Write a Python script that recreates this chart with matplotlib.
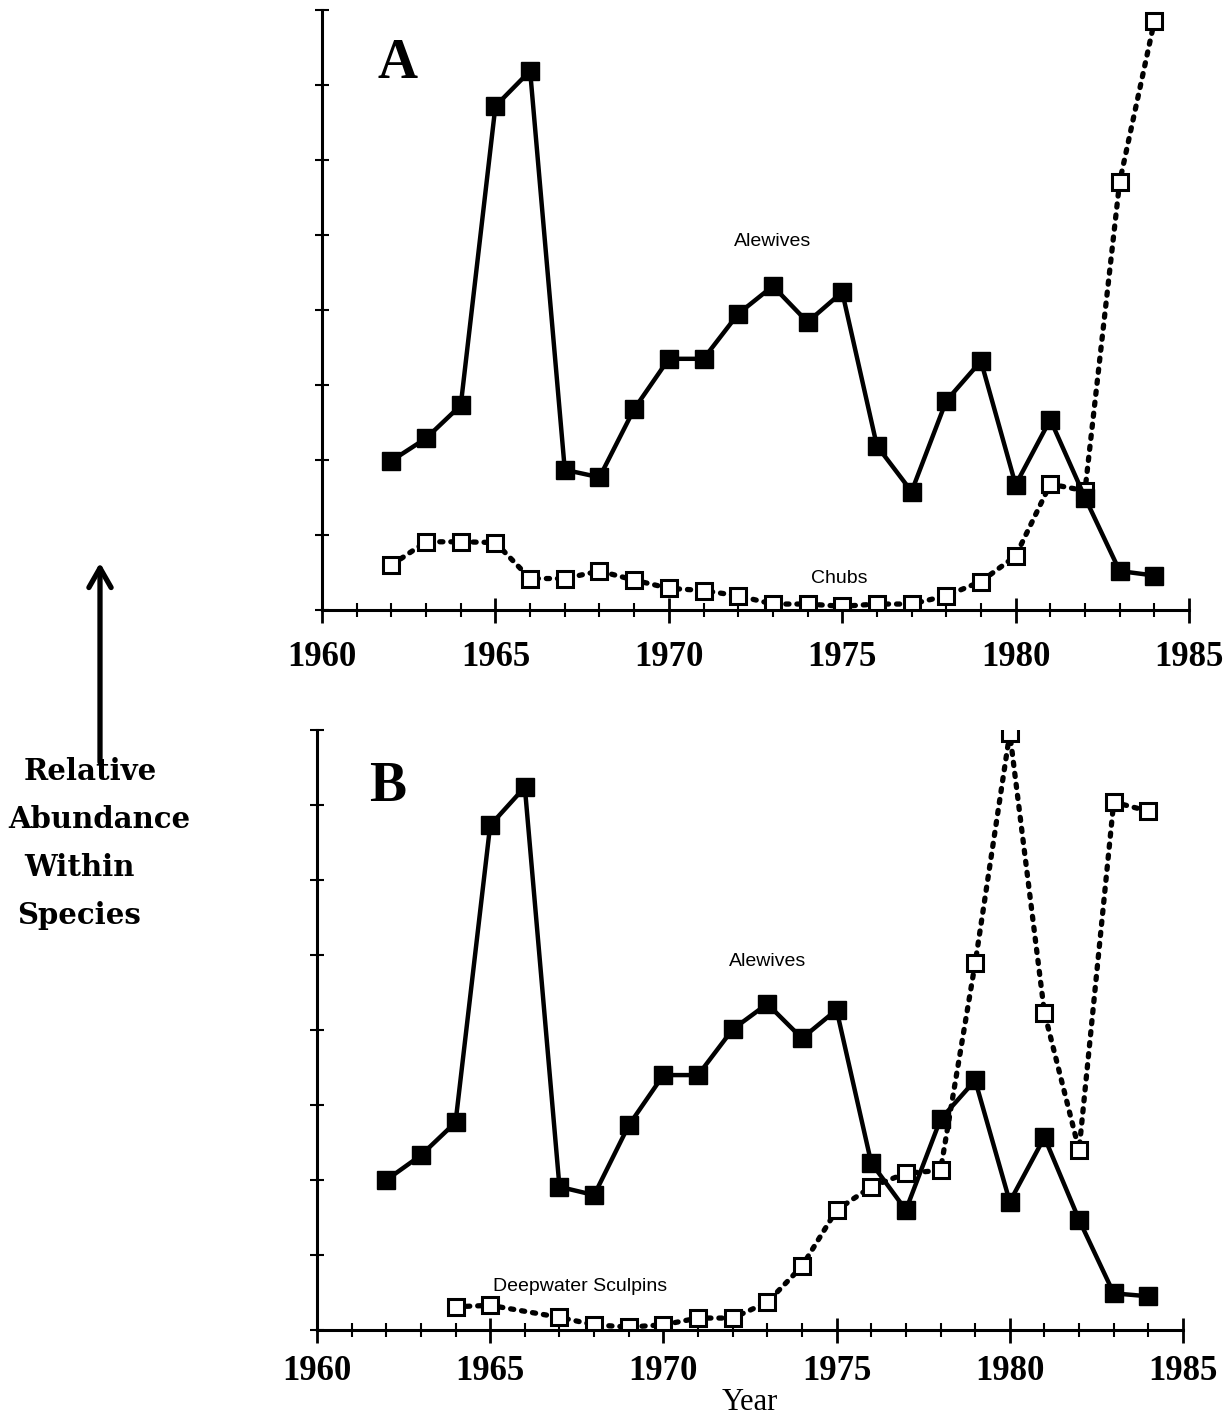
import matplotlib.pyplot as plt
from matplotlib.ticker import MultipleLocator
from matplotlib.patches import FancyArrowPatch

years = list(range(1962, 1985))

# panel A
alewives_a = [1.99, 2.29, 2.73, 6.72, 7.19, 1.87, 1.77, 2.68, 3.35, 3.35, 3.95, 4.32,
              3.84, 4.24, 2.19, 1.58, 2.79, 3.32, 1.67, 2.54, 1.50, 0.52, 0.46]
chubs_a = [0.60, 0.91, 0.91, 0.90, 0.42, 0.42, 0.52, 0.40, 0.29, 0.26, 0.19, 0.08,
           0.08, 0.05, 0.08, 0.08, 0.19, 0.38, 0.72, 1.68, 1.59, 5.71, 7.85]

# panel B
alewives_b = [2.00, 2.33, 2.77, 6.73, 7.24, 1.91, 1.80, 2.73, 3.40, 3.40, 4.01, 4.35,
              3.89, 4.27, 2.23, 1.60, 2.81, 3.33, 1.71, 2.57, 1.47, 0.49, 0.45]
sculpin_years = [1964, 1965, 1967, 1968, 1969, 1970, 1971, 1972, 1973, 1974, 1975,
                 1976, 1977, 1978, 1979, 1980, 1981, 1982, 1983, 1984]
sculpins_b = [0.31, 0.33, 0.17, 0.07, 0.04, 0.07, 0.16, 0.16, 0.37, 0.85, 1.60,
              1.91, 2.09, 2.13, 4.89, 7.96, 4.23, 2.40, 7.04, 6.92]

serif = ['Liberation Serif', 'DejaVu Serif']
sans = ['Liberation Sans', 'DejaVu Sans']

fig = plt.figure(figsize=(12.31, 14.21), dpi=100)
ax_a = fig.add_axes([0.2616, 0.5707, 0.7043, 0.4222])
ax_b = fig.add_axes([0.2575, 0.0640, 0.7035, 0.4222])


def style(ax):
    ax.set_xlim(1960, 1985)
    ax.set_ylim(0, 8)
    for s in ['top', 'right']:
        ax.spines[s].set_visible(False)
    for s in ['left', 'bottom']:
        ax.spines[s].set_linewidth(2.2)
    ax.xaxis.set_major_locator(MultipleLocator(5))
    ax.xaxis.set_minor_locator(MultipleLocator(1))
    ax.yaxis.set_major_locator(MultipleLocator(1))
    ax.tick_params(axis='x', which='major', direction='inout', length=18, width=2)
    ax.tick_params(axis='x', which='minor', direction='inout', length=10, width=1.5)
    ax.tick_params(axis='y', which='major', direction='inout', length=10, width=1.5,
                   labelleft=False)
    for lab in ax.get_xticklabels():
        lab.set_family(serif)
        lab.set_fontweight('bold')
        lab.set_fontsize(25)
    ax.patch.set_alpha(0)


style(ax_a)
ax_a.tick_params(axis='x', pad=13)
ax_a.plot(years, chubs_a, color='black', linestyle=(0, (0.6, 1.5)), linewidth=3.8,
          dash_capstyle='round', marker='s', markersize=11, markerfacecolor='white',
          markeredgecolor='black', markeredgewidth=2.2)
ax_a.plot(years, alewives_a, color='black', linewidth=3.2, marker='s', markersize=13,
          markerfacecolor='black', markeredgecolor='black')
ax_a.text(1961.6, 7.1, 'A', family=serif, fontweight='bold', fontsize=40)
ax_a.text(1973.0, 4.85, 'Alewives', family=sans, fontsize=14, ha='center')
ax_a.text(1974.9, 0.36, 'Chubs', family=sans, fontsize=14, ha='center')

style(ax_b)
ax_b.tick_params(axis='x', pad=9)
ax_b.plot(sculpin_years, sculpins_b, color='black', linestyle=(0, (0.6, 1.5)), linewidth=3.8,
          dash_capstyle='round', marker='s', markersize=11, markerfacecolor='white',
          markeredgecolor='black', markeredgewidth=2.2)
ax_b.plot(years, alewives_b, color='black', linewidth=3.2, marker='s', markersize=13,
          markerfacecolor='black', markeredgecolor='black')
ax_b.text(1961.5, 7.05, 'B', family=serif, fontweight='bold', fontsize=40)
ax_b.text(1973.0, 4.85, 'Alewives', family=sans, fontsize=14, ha='center')
ax_b.text(1967.6, 0.52, 'Deepwater Sculpins', family=sans, fontsize=14, ha='center')
ax_b.set_xlabel('Year', family=serif, fontsize=22, labelpad=0)

# left side label with arrow
fig.patches.append(FancyArrowPatch(
    (100 / 1231, 1 - 765 / 1421), (100 / 1231, 1 - 560 / 1421),
    transform=fig.transFigure, arrowstyle='->,head_length=14,head_width=8',
    linewidth=3.8, color='black', mutation_scale=1))
label_lines = ['Relative', 'Abundance', 'Within', 'Species']
label_x = [24, 8, 24, 17]
label_y = [772, 820, 868, 915]
for txt, lx, ly in zip(label_lines, label_x, label_y):
    fig.text(lx / 1231, 1 - ly / 1421, txt, family=['DejaVu Serif'], fontweight='bold',
             fontsize=21, va='center', ha='left')

plt.savefig('out.png', dpi=100)
